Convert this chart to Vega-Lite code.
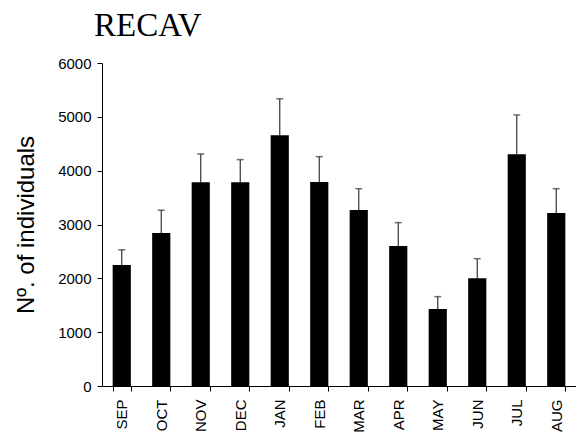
{
  "$schema": "https://vega.github.io/schema/vega-lite/v6.json",
  "width": 474,
  "height": 323,
  "autosize": {"type": "none"},
  "padding": {"left": 102, "top": 63, "right": 0, "bottom": 46},
  "background": "white",
  "title": {
    "text": "RECAV",
    "font": "Liberation Serif",
    "fontSize": 33,
    "fontWeight": "normal",
    "color": "black",
    "anchor": "start",
    "frame": "group",
    "baseline": "alphabetic",
    "dx": -8,
    "dy": 32,
    "offset": 19
  },
  "config": {
    "view": {"stroke": null},
    "axis": {
      "domainColor": "black",
      "tickColor": "black",
      "labelColor": "black",
      "titleColor": "black",
      "labelFont": "Liberation Sans",
      "titleFont": "Liberation Sans",
      "grid": false
    }
  },
  "data": {
    "values": [
      {"month": "SEP", "value": 2250, "upper": 2530},
      {"month": "OCT", "value": 2840, "upper": 3265},
      {"month": "NOV", "value": 3785, "upper": 4310},
      {"month": "DEC", "value": 3785, "upper": 4205},
      {"month": "JAN", "value": 4660, "upper": 5335},
      {"month": "FEB", "value": 3790, "upper": 4260},
      {"month": "MAR", "value": 3270, "upper": 3665},
      {"month": "APR", "value": 2600, "upper": 3035},
      {"month": "MAY", "value": 1430, "upper": 1660},
      {"month": "JUN", "value": 2000, "upper": 2365},
      {"month": "JUL", "value": 4305, "upper": 5035},
      {"month": "AUG", "value": 3215, "upper": 3665}
    ]
  },
  "encoding": {
    "x": {
      "field": "month",
      "type": "nominal",
      "sort": null,
      "scale": {"paddingInner": 0.54, "paddingOuter": 0.27},
      "axis": {
        "title": null,
        "labelAngle": 270,
        "labelAlign": "right",
        "labelBaseline": "middle",
        "labelFontSize": 15,
        "labelPadding": 8,
        "tickBand": "extent",
        "tickSize": 5,
        "domainWidth": 1
      }
    }
  },
  "layer": [
    {
      "mark": {"type": "rule", "color": "#333333", "strokeWidth": 1.2},
      "encoding": {
        "y": {"field": "value", "type": "quantitative"},
        "y2": {"field": "upper"}
      }
    },
    {
      "mark": {"type": "tick", "orient": "horizontal", "size": 7, "thickness": 1.5, "color": "#333333"},
      "encoding": {
        "y": {"field": "upper", "type": "quantitative"}
      }
    },
    {
      "mark": {"type": "bar", "color": "black"},
      "encoding": {
        "y": {
          "field": "value",
          "type": "quantitative",
          "scale": {"domain": [0, 6000], "nice": false},
          "axis": {
            "title": "Nº. of individuals",
            "titleFontSize": 24,
            "titleFontWeight": "normal",
            "titlePadding": 19,
            "values": [0, 1000, 2000, 3000, 4000, 5000, 6000],
            "format": "d",
            "labelFontSize": 15,
            "labelPadding": 6,
            "tickSize": 5
          }
        }
      }
    }
  ]
}
